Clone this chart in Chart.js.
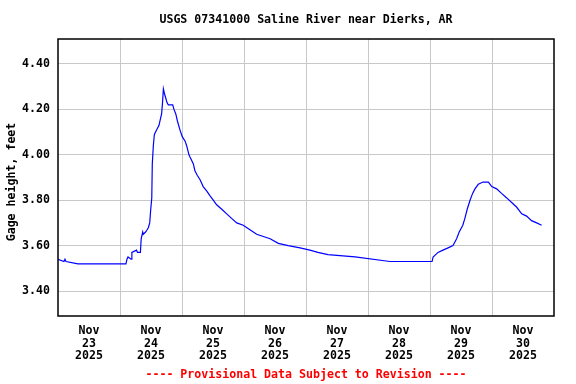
<!DOCTYPE html>
<html>
<head>
<meta charset="utf-8">
<script src="https://cdn.jsdelivr.net/npm/chart.js@4/dist/chart.umd.min.js"></script>
<style>
  html, body { margin: 0; padding: 0; background: #fff; }
  #wrap { width: 576px; height: 384px; }
</style>
</head>
<body>
<div id="wrap"><canvas id="gage"></canvas></div>
<script>
const siteTitle = 'USGS 07341000 Saline River near Dierks, AR'
const footerText = '---- Provisional Data Subject to Revision ----'
const yTitle = 'Gage height, feet'

// hours since Nov 23 2025 00:00
const hours = [0, 2.3, 2.7, 3.1, 7.7, 26.3, 26.7, 27.1, 28.3, 28.6, 30.4, 30.8, 31.9, 32.2, 32.8, 33.0, 33.9, 34.5, 35.0, 35.5,
    35.9, 36.3, 36.5, 36.9, 37.3, 38.2, 39.1, 39.5, 40.1, 40.4, 40.8, 41.2, 41.7, 42.2, 42.7, 44.4, 44.9, 45.6, 46.2, 47.2,
    48.1, 49.2, 49.8, 50.7, 51.1, 52.4, 53.0, 53.9, 55.0, 56.2, 57.6, 58.8, 60.1, 61.4, 63.4, 65.3, 67.2, 69.2, 71.7, 74.3,
    76.9, 79.5, 82.1, 85.3, 89.1, 93.7, 97.5, 100.6, 104.5, 115.0, 128.5, 144.8, 145.2, 147.1, 149.0, 151.0, 152.9, 154.3, 155.3, 156.7,
    157.5, 158.4, 159.5, 160.5, 161.4, 162.7, 164.5, 166.6, 167.9, 169.8, 171.7, 173.7, 175.6, 177.5, 179.5, 181.4, 183.3, 185.3, 187.2]
const stage = [3.54, 3.53, 3.54, 3.53, 3.52, 3.52, 3.54, 3.55, 3.54, 3.57, 3.58, 3.57, 3.57, 3.63, 3.66, 3.65, 3.66, 3.67, 3.68, 3.70,
    3.76, 3.81, 3.96, 4.04, 4.09, 4.11, 4.13, 4.15, 4.18, 4.22, 4.29, 4.27, 4.25, 4.23, 4.22, 4.22, 4.20, 4.18, 4.15, 4.11,
    4.08, 4.06, 4.04, 4.00, 3.99, 3.96, 3.93, 3.91, 3.89, 3.86, 3.84, 3.82, 3.80, 3.78, 3.76, 3.74, 3.72, 3.70, 3.69, 3.67,
    3.65, 3.64, 3.63, 3.61, 3.60, 3.59, 3.58, 3.57, 3.56, 3.55, 3.53, 3.53, 3.55, 3.57, 3.58, 3.59, 3.60, 3.63, 3.66, 3.69,
    3.72, 3.76, 3.80, 3.83, 3.85, 3.87, 3.88, 3.88, 3.86, 3.85, 3.83, 3.81, 3.79, 3.77, 3.74, 3.73, 3.71, 3.70, 3.69]

const yTicks = [3.40, 3.60, 3.80, 4.00, 4.20, 4.40]
const dayGrid = [24, 48, 72, 96, 120, 144, 168]
const dayMid = [12, 36, 60, 84, 108, 132, 156, 180]
const dayLabels = ['23', '24', '25', '26', '27', '28', '29', '30']
const monthLabel = 'Nov'
const yearLabel = '2025'

const monoFont = { family: '"DejaVu Sans Mono", "Liberation Mono", monospace', size: 11.6, weight: 'bold' }
const fontCss = 'bold 11.6px "DejaVu Sans Mono", monospace'

// box, title, footer and y title, placed like the USGS plot
const textPlugin = {
    id: 'usgsText',
    afterDraw(chart) {
        const ctx = chart.ctx
        const area = chart.chartArea
        const cx = (area.left + area.right) / 2
        ctx.save()
        ctx.strokeStyle = '#000'
        ctx.lineWidth = 1.5
        ctx.strokeRect(area.left, area.top, area.right - area.left, area.bottom - area.top)
        ctx.font = fontCss
        ctx.textAlign = 'center'
        ctx.textBaseline = 'middle'
        ctx.fillStyle = '#000'
        ctx.fillText(siteTitle, cx, 20)
        ctx.fillStyle = '#ff0000'
        ctx.fillText(footerText, cx, 375)
        ctx.fillStyle = '#000'
        ctx.translate(12, 182)
        ctx.rotate(-Math.PI / 2)
        ctx.fillText(yTitle, 0, 0)
        ctx.restore()
    }
}

new Chart(document.getElementById('gage'), {
    type: 'line',
    data: {
        datasets: [{
            label: 'Gage height',
            data: hours.map((h, i) => ({ x: h, y: stage[i] })),
            borderColor: '#0000ff',
            borderWidth: 1.2,
            pointRadius: 0,
            fill: false,
            tension: 0,
            xAxisID: 'x',
            yAxisID: 'y'
        }]
    },
    options: {
        responsive: true,
        maintainAspectRatio: false,
        animation: false,
        layout: { padding: { top: 39, right: 22, bottom: 0, left: 0 } },
        plugins: { legend: { display: false }, tooltip: { enabled: false } },
        scales: {
            x: {
                type: 'linear',
                min: 0,
                max: 192,
                afterBuildTicks: (scale) => { scale.ticks = dayGrid.map((v) => ({ value: v })) },
                afterFit: (scale) => { scale.height = 0 },
                ticks: { display: false },
                grid: { color: '#c8c8c8', lineWidth: 1, drawTicks: false },
                border: { display: false }
            },
            xl: {
                type: 'linear',
                position: 'bottom',
                min: 0,
                max: 192,
                afterBuildTicks: (scale) => { scale.ticks = dayMid.map((v) => ({ value: v })) },
                afterFit: (scale) => { scale.height = 68 },
                ticks: {
                    autoSkip: false,
                    maxRotation: 0,
                    padding: 8,
                    color: '#000',
                    font: { ...monoFont, lineHeight: 1.12 },
                    callback: (value) => {
                        const i = dayMid.indexOf(value)
                        return i < 0 ? '' : [monthLabel, dayLabels[i], yearLabel]
                    }
                },
                grid: { display: false, drawTicks: false },
                border: { display: false }
            },
            y: {
                type: 'linear',
                min: 3.29,
                max: 4.51,
                afterBuildTicks: (scale) => { scale.ticks = yTicks.map((v) => ({ value: v })) },
                afterFit: (scale) => { scale.width = 58 },
                ticks: {
                    padding: 8,
                    color: '#000',
                    font: monoFont,
                    callback: (value) => value.toFixed(2)
                },
                grid: { color: '#c8c8c8', lineWidth: 1, drawTicks: false },
                border: { display: false }
            }
        }
    },
    plugins: [textPlugin]
})
</script>
</body>
</html>
